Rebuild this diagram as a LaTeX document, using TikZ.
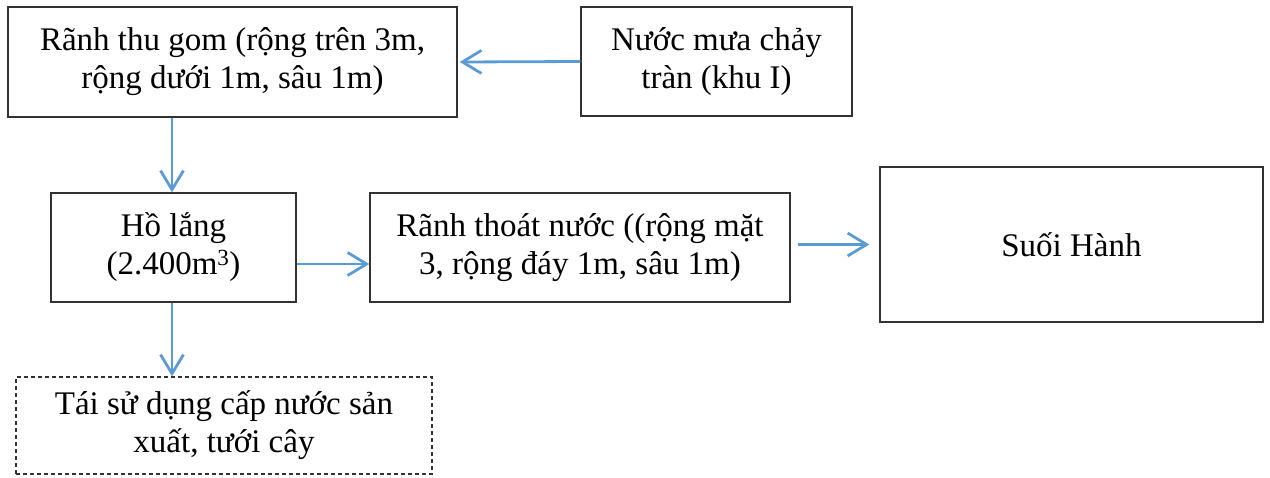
\documentclass[tikz,border=0pt]{standalone}
\usepackage{fontspec}
\setmainfont{Liberation Serif}
\usetikzlibrary{arrows.meta}
\definecolor{arrblue}{RGB}{91,155,213}
\definecolor{boxline}{RGB}{50,50,50}
\tikzset{
  box/.style={draw=boxline, line width=1.4pt, inner sep=0pt, align=center,
    font=\fontsize{33}{38}\selectfont},
  dbox/.style={box, dash pattern=on 4pt off 3pt},
  arr/.style={draw=arrblue, line width=2.8pt,
    -{Straight Barb[length=19pt,width=23pt,line width=2.8pt]}}
}
\begin{document}
\begin{tikzpicture}[x=1pt,y=-1pt]
\useasboundingbox (0,0) rectangle (1270,477);
\node[box, minimum width=449pt, minimum height=110pt] (thugom) at (232.5,62)
  {Rãnh thu gom (rộng trên 3m,\\rộng dưới 1m, sâu 1m)};
\node[box, minimum width=271pt, minimum height=109pt] (mua) at (716.5,61.5)
  {Nước mưa chảy\\tràn (khu I)};
\node[box, minimum width=245pt, minimum height=109pt] (holang) at (173.5,247.5)
  {Hồ lắng\\(2.400m\textsuperscript{3})};
\node[box, minimum width=420pt, minimum height=109pt] (thoat) at (580,247.5)
  {Rãnh thoát nước ((rộng mặt\\3, rộng đáy 1m, sâu 1m)};
\node[box, minimum width=383pt, minimum height=155pt] (suoi) at (1071.5,244.5)
  {Suối Hành};
\node[dbox, minimum width=416pt, minimum height=97pt] (taisd) at (224,425.5)
  {Tái sử dụng cấp nước sản\\xuất, tưới cây};
\coordinate (a1) at ([xshift=2pt]thugom.east);
\draw[arr] (mua.west) -- (a1);
\draw[arr] ([xshift=-60.5pt]thugom.south) -- ([xshift=-1.5pt]holang.north);
\draw[arr] ([yshift=-16.5pt]holang.east) -- ([yshift=-16.5pt]thoat.west);
\coordinate (b1) at ([xshift=7pt]thoat.east |- suoi.west);
\coordinate (b2) at ([xshift=-10pt]suoi.west);
\draw[arr] (b1) -- (b2);
\draw[arr] ([xshift=-1.5pt]holang.south) -- ([xshift=-52pt]taisd.north);
\end{tikzpicture}
\end{document}
